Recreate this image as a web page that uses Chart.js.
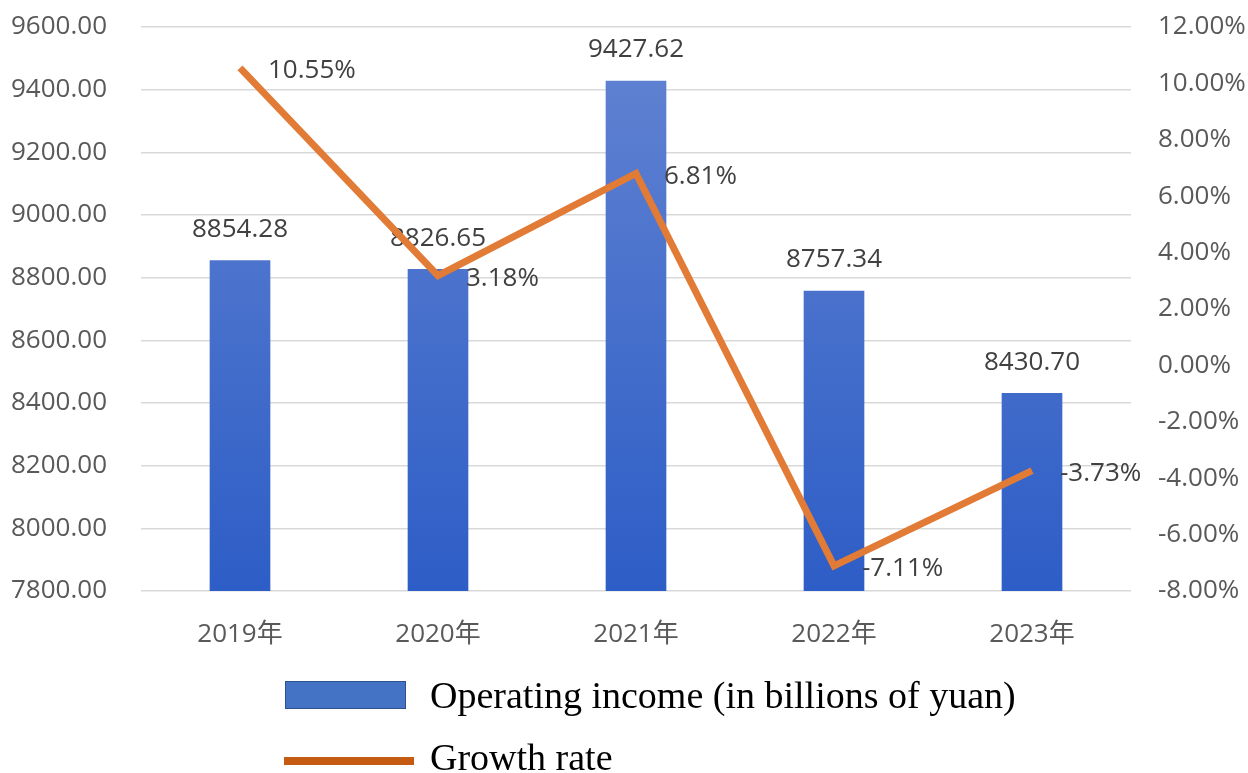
<!DOCTYPE html>
<html><head><meta charset="utf-8">
<script src="https://cdn.jsdelivr.net/npm/chart.js@4.4.1/dist/chart.umd.min.js"></script>
<style>
html,body{margin:0;padding:0;background:#fff;}
#wrap{position:relative;width:1248px;height:773px;}
canvas{position:absolute;left:0;top:0;}
.lg{position:absolute;font-family:"Liberation Serif","Times New Roman",serif;font-size:38px;color:#000;line-height:1;white-space:nowrap;}
.sw1{position:absolute;left:285px;top:681px;width:119px;height:26px;background:#4472c4;border:1.5px solid #2f528f;}
.sw2{position:absolute;left:284px;top:757px;width:130px;height:8px;background:#c55a11;}
</style></head>
<body><div id="wrap"><canvas id="c" width="1248" height="773"></canvas>
<div class="sw1"></div><div class="lg" style="left:430px;top:676px;">Operating income (in billions of yuan)</div>
<div class="sw2"></div><div class="lg" style="left:430px;top:738px;">Growth rate</div>
</div>
<script>
const categories = ['2019年','2020年','2021年','2022年','2023年'];
const incomeValues = [8854.28, 8826.65, 9427.62, 8757.34, 8430.70];
const growthValues = [10.55, 3.18, 6.81, -7.11, -3.73];
const incomeLabels = ['8854.28','8826.65','9427.62','8757.34','8430.70'];
const growthLabels = ['10.55%','3.18%','6.81%','-7.11%','-3.73%'];

const FONT = '"Open Sans", "Noto Sans CJK SC", sans-serif';

const labelPlugin = {
  id: 'labels',
  afterDatasetDraw(chart, args) {
    if (args.index !== 0) return;
    const ctx = chart.ctx;
    ctx.save();
    ctx.font = '26px ' + FONT;
    ctx.fillStyle = '#404040';
    ctx.textBaseline = 'middle';
    const bm = chart.getDatasetMeta(0);
    bm.data.forEach((el, i) => {
      ctx.textAlign = 'center';
      ctx.fillText(incomeLabels[i], el.x, el.y - 31);
    });
    const lm = chart.getDatasetMeta(1);
    lm.data.forEach((el, i) => {
      ctx.textAlign = 'left';
      ctx.fillText(growthLabels[i], el.x + 28, el.y + 3);
    });
    ctx.restore();
  }
};

const ctx = document.getElementById('c').getContext('2d');
function barGrad(context) {
  const ca = context.chart.chartArea;
  if (!ca) return '#4472c4';
  const g = context.chart.ctx.createLinearGradient(0, ca.top, 0, ca.bottom);
  g.addColorStop(0, '#6384d2');
  g.addColorStop(1, '#2d5dc6');
  return g;
}
function fitY(w) {
  return function (s) { s.width = w; s.paddingTop = 0; s.paddingBottom = 0; };
}

new Chart(ctx, {
  data: {
    labels: categories,
    datasets: [
      { type: 'bar', data: incomeValues, yAxisID: 'y', order: 1,
        backgroundColor: barGrad, borderWidth: 0,
        barThickness: 60 },
      { type: 'line', data: growthValues, yAxisID: 'y1', order: 0,
        borderColor: '#e17b36', borderWidth: 7, pointRadius: 0,
        tension: 0, fill: false, borderCapStyle: 'butt', borderJoinStyle: 'miter' }
    ]
  },
  options: {
    responsive: false, animation: false,
    layout: { padding: { top: 27, bottom: 122, left: 0, right: 0 } },
    plugins: { legend: { display: false }, tooltip: { enabled: false } },
    scales: {
      x: {
        grid: { display: false, drawTicks: false },
        border: { display: false },
        ticks: { font: { size: 26, family: FONT }, color: '#595959', padding: 28 },
        afterFit(s) { s.height = 60; s.paddingLeft = 0; s.paddingRight = 0; }
      },
      y: {
        position: 'left', min: 7800, max: 9600,
        ticks: { stepSize: 200, font: { size: 26, family: FONT }, color: '#595959', padding: 34,
          callback: v => v.toFixed(2) },
        grid: { color: '#d9d9d9', lineWidth: 1.5, drawTicks: false },
        border: { display: false },
        afterFit: fitY(141)
      },
      y1: {
        position: 'right', min: -8, max: 12,
        ticks: { stepSize: 2, font: { size: 26, family: FONT }, color: '#595959', padding: 27,
          callback: v => v.toFixed(2) + '%' },
        grid: { display: false, drawTicks: false },
        border: { display: false },
        afterFit: fitY(117)
      }
    }
  },
  plugins: [labelPlugin]
});
</script></body></html>
